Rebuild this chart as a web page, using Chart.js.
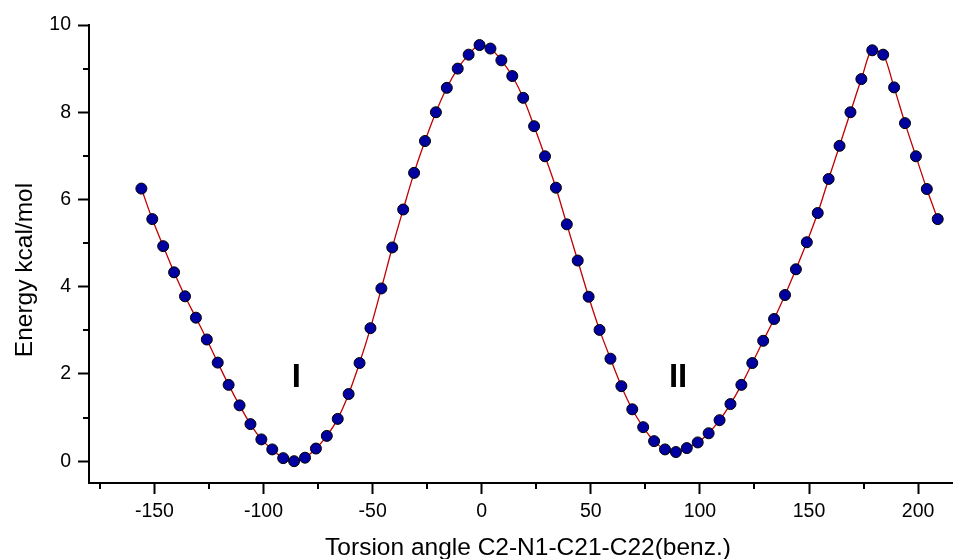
<!DOCTYPE html>
<html>
<head>
<meta charset="utf-8">
<script src="https://cdn.jsdelivr.net/npm/chart.js@4.4.0/dist/chart.umd.min.js"></script>
<style>
  body { margin: 0; background: #fff; }
</style>
</head>
<body>
<canvas id="scan" width="953" height="559"></canvas>
<script>
// torsion scan
const angles = [-156, -151, -146, -141, -136, -131, -126, -121, -116, -111, -106, -101, -96, -91, -86, -81,
  -76, -71, -66, -61, -56, -51, -46, -41, -36, -31, -26, -21, -16, -11, -6, -1, 4, 9, 14, 19, 24, 29, 34,
  39, 44, 49, 54, 59, 64, 69, 74, 79, 84, 89, 94, 99, 104, 109, 114, 119, 124, 129, 134, 139, 144, 149,
  154, 159, 164, 169, 174, 179, 184, 189, 194, 199, 204, 209];
const energies = [6.25, 5.55, 4.93, 4.33, 3.78, 3.29, 2.79, 2.26, 1.75, 1.28, 0.85, 0.50, 0.27, 0.07, 0.00, 0.08,
  0.29, 0.58, 0.97, 1.54, 2.25, 3.05, 3.96, 4.90, 5.77, 6.61, 7.34, 8.00, 8.56, 9.00, 9.32, 9.54, 9.46, 9.19, 8.83, 8.33, 7.68, 6.99, 6.27,
  5.43, 4.60, 3.77, 3.01, 2.35, 1.72, 1.19, 0.78, 0.46, 0.27, 0.21, 0.30, 0.43, 0.64, 0.94, 1.31, 1.75, 2.25, 2.76, 3.26, 3.81, 4.40, 5.02,
  5.69, 6.47, 7.23, 8.00, 8.76, 9.42, 9.32, 8.57, 7.75, 6.99, 6.24, 5.55];

// minima labels (x, baseline y)
const minimaNames = ["I", "II"];
const minimaX = [-85, 90];
const minimaY = [1.7, 1.7];

const xMinor = [-175, -125, -75, -25, 25, 75, 125, 175];
const yMinor = [1, 3, 5, 7, 9];

const xTitle = "Torsion angle C2-N1-C21-C22(benz.)";
const yTitle = "Energy kcal/mol";

const FONT = "'Liberation Sans', Arial, sans-serif";

const extras = {
  id: "extras",
  afterDraw(chart) {
    const ctx = chart.ctx;
    const xs = chart.scales.x, ys = chart.scales.y;
    const area = chart.chartArea;
    ctx.save();
    ctx.strokeStyle = "#000";
    ctx.lineWidth = 2;
    // minor ticks
    xMinor.forEach(v => {
      const px = Math.round(xs.getPixelForValue(v));
      ctx.beginPath();
      ctx.moveTo(px, area.bottom);
      ctx.lineTo(px, area.bottom + 6);
      ctx.stroke();
    });
    yMinor.forEach(v => {
      const py = Math.round(ys.getPixelForValue(v));
      ctx.beginPath();
      ctx.moveTo(area.left, py);
      ctx.lineTo(area.left - 6, py);
      ctx.stroke();
    });

    ctx.fillStyle = "#000";
    // I / II
    ctx.font = "bold 33px " + FONT;
    ctx.textAlign = "center";
    ctx.textBaseline = "alphabetic";
    minimaNames.forEach((t, i) => {
      ctx.fillText(t, xs.getPixelForValue(minimaX[i]), ys.getPixelForValue(minimaY[i]));
    });

    // axis titles
    ctx.font = "24.5px " + FONT;
    ctx.fillText(xTitle, 528, 555);
    ctx.translate(32, 270);
    ctx.rotate(-Math.PI / 2);
    ctx.fillText(yTitle, 0, 0);
    ctx.restore();
  }
};

new Chart(document.getElementById("scan"), {
  type: "line",
  data: {
    datasets: [{
      data: angles.map((a, i) => ({ x: a, y: energies[i] })),
      borderColor: "#c00000",
      borderWidth: 1.3,
      cubicInterpolationMode: "monotone",
      pointRadius: 5.5,
      pointBackgroundColor: "#0000a0",
      pointBorderColor: "#000",
      pointBorderWidth: 1,
      clip: false
    }]
  },
  options: {
    responsive: false,
    animation: false,
    layout: { autoPadding: false, padding: { top: 25, right: 0, bottom: 0, left: 0 } },
    plugins: { legend: { display: false }, tooltip: { enabled: false } },
    scales: {
      x: {
        type: "linear",
        min: -180,
        max: 216,
        afterFit(scale) {
          scale.height = 76;
          scale.paddingLeft = 0;
          scale.paddingRight = 0;
        },
        grid: { drawOnChartArea: false, tickLength: 11, tickWidth: 2, tickColor: "#000" },
        border: { color: "#000", width: 2 },
        ticks: { stepSize: 50, includeBounds: false, color: "#000", padding: 6, maxRotation: 0,
          font: { family: FONT, size: 19.5 } }
      },
      y: {
        min: -0.5,
        max: 10,
        afterFit(scale) { scale.width = 89; },
        grid: { drawOnChartArea: false, tickLength: 11, tickWidth: 2, tickColor: "#000" },
        border: { color: "#000", width: 2 },
        ticks: { stepSize: 2, includeBounds: false, color: "#000", padding: 7,
          font: { family: FONT, size: 19.5 } }
      }
    }
  },
  plugins: [extras]
});
</script>
</body>
</html>
